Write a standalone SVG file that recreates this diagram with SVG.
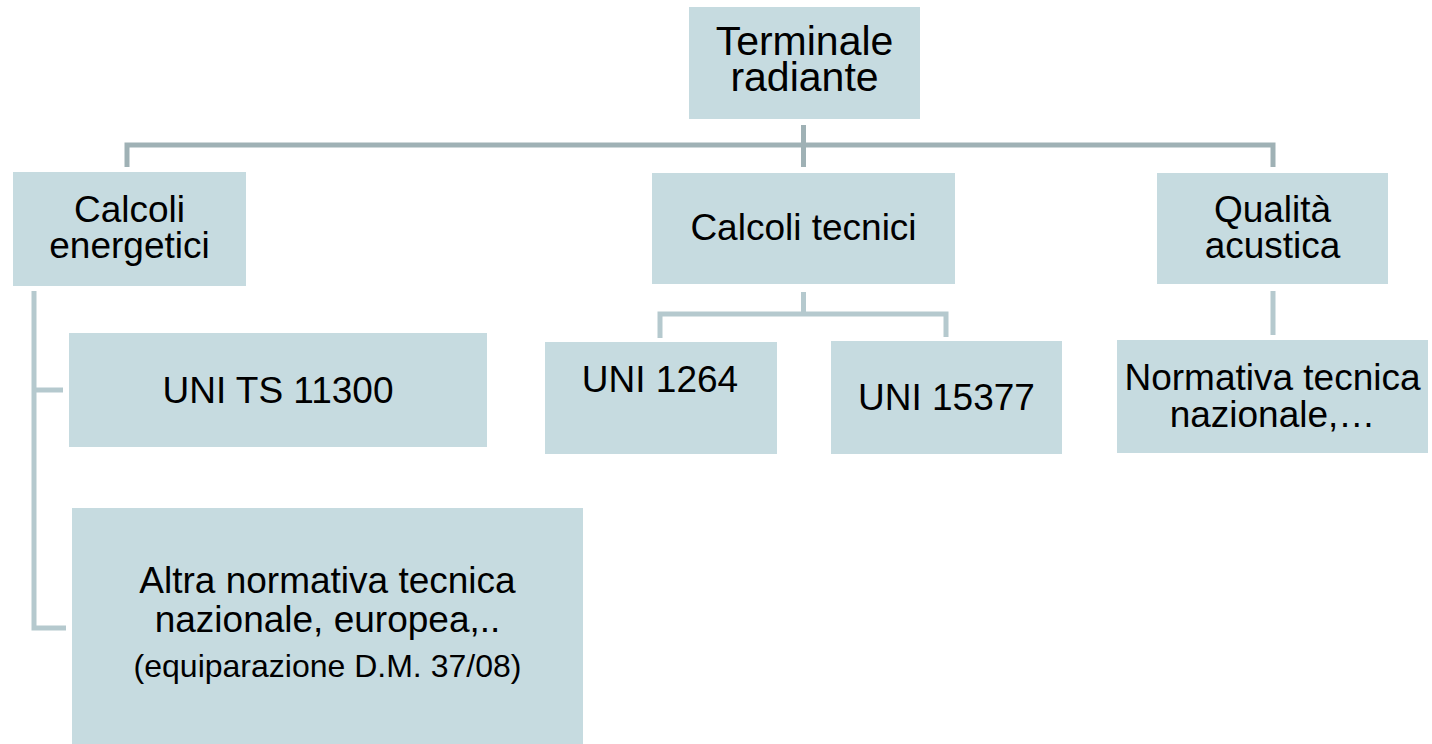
<svg xmlns="http://www.w3.org/2000/svg" width="1432" height="744" viewBox="0 0 1432 744">
<style>
.box{fill:#c6dbe0;}
.t{font-family:"Liberation Sans",Arial,sans-serif;font-size:37px;fill:#000;text-anchor:middle;}
.big{font-size:41px;}
.sm{font-size:32px;}
.c1{fill:none;stroke:#9fb1b5;stroke-width:5;}
.c2{fill:none;stroke:#b5c9ce;stroke-width:5;}
</style>
<rect width="1432" height="744" fill="#ffffff"/>
<g id="connectors">
<path class="c1" d="M127,167 V145 H1273 V167"/>
<path class="c1" d="M803.5,125 V167"/>
<path class="c2" d="M34,291 V628 H66"/>
<path class="c2" d="M34,390 H63"/>
<path class="c2" d="M803.5,292 V314"/>
<path class="c2" d="M660,338 V314 H946 V337"/>
<path class="c2" d="M1273,291 V335"/>
</g>
<g id="terminale">
<rect class="box" x="689" y="7" width="231" height="112"/>
<text class="t big" x="804.5" y="55">Terminale<tspan x="804.5" dy="36">radiante</tspan></text>
</g>
<g id="calcoli-energetici">
<rect class="box" x="13" y="172" width="233" height="114"/>
<text class="t" x="129.5" y="222">Calcoli<tspan x="129.5" dy="36">energetici</tspan></text>
</g>
<g id="calcoli-tecnici">
<rect class="box" x="652" y="173" width="303" height="111"/>
<text class="t" x="803.5" y="240">Calcoli tecnici</text>
</g>
<g id="qualita-acustica">
<rect class="box" x="1157" y="173" width="231" height="111"/>
<text class="t" x="1272.5" y="222">Qualità<tspan x="1272.5" dy="36">acustica</tspan></text>
</g>
<g id="uni-ts-11300">
<rect class="box" x="69" y="333" width="418" height="114"/>
<text class="t" x="278" y="403">UNI TS 11300</text>
</g>
<g id="uni-1264">
<rect class="box" x="545" y="342" width="232" height="112"/>
<text class="t" x="660" y="392">UNI 1264</text>
</g>
<g id="uni-15377">
<rect class="box" x="831" y="341" width="231" height="113"/>
<text class="t" x="946.5" y="410">UNI 15377</text>
</g>
<g id="normativa-tecnica">
<rect class="box" x="1117" y="340" width="311" height="113"/>
<text class="t" x="1272.5" y="390">Normativa tecnica<tspan x="1272.5" dy="37">nazionale,…</tspan></text>
</g>
<g id="altra-normativa">
<rect class="box" x="72" y="508" width="511" height="236"/>
<text class="t" x="327.5" y="593">Altra normativa tecnica<tspan x="327.5" dy="39">nazionale, europea,..</tspan><tspan class="sm" x="327.5" dy="45">(equiparazione D.M. 37/08)</tspan></text>
</g>
</svg>
